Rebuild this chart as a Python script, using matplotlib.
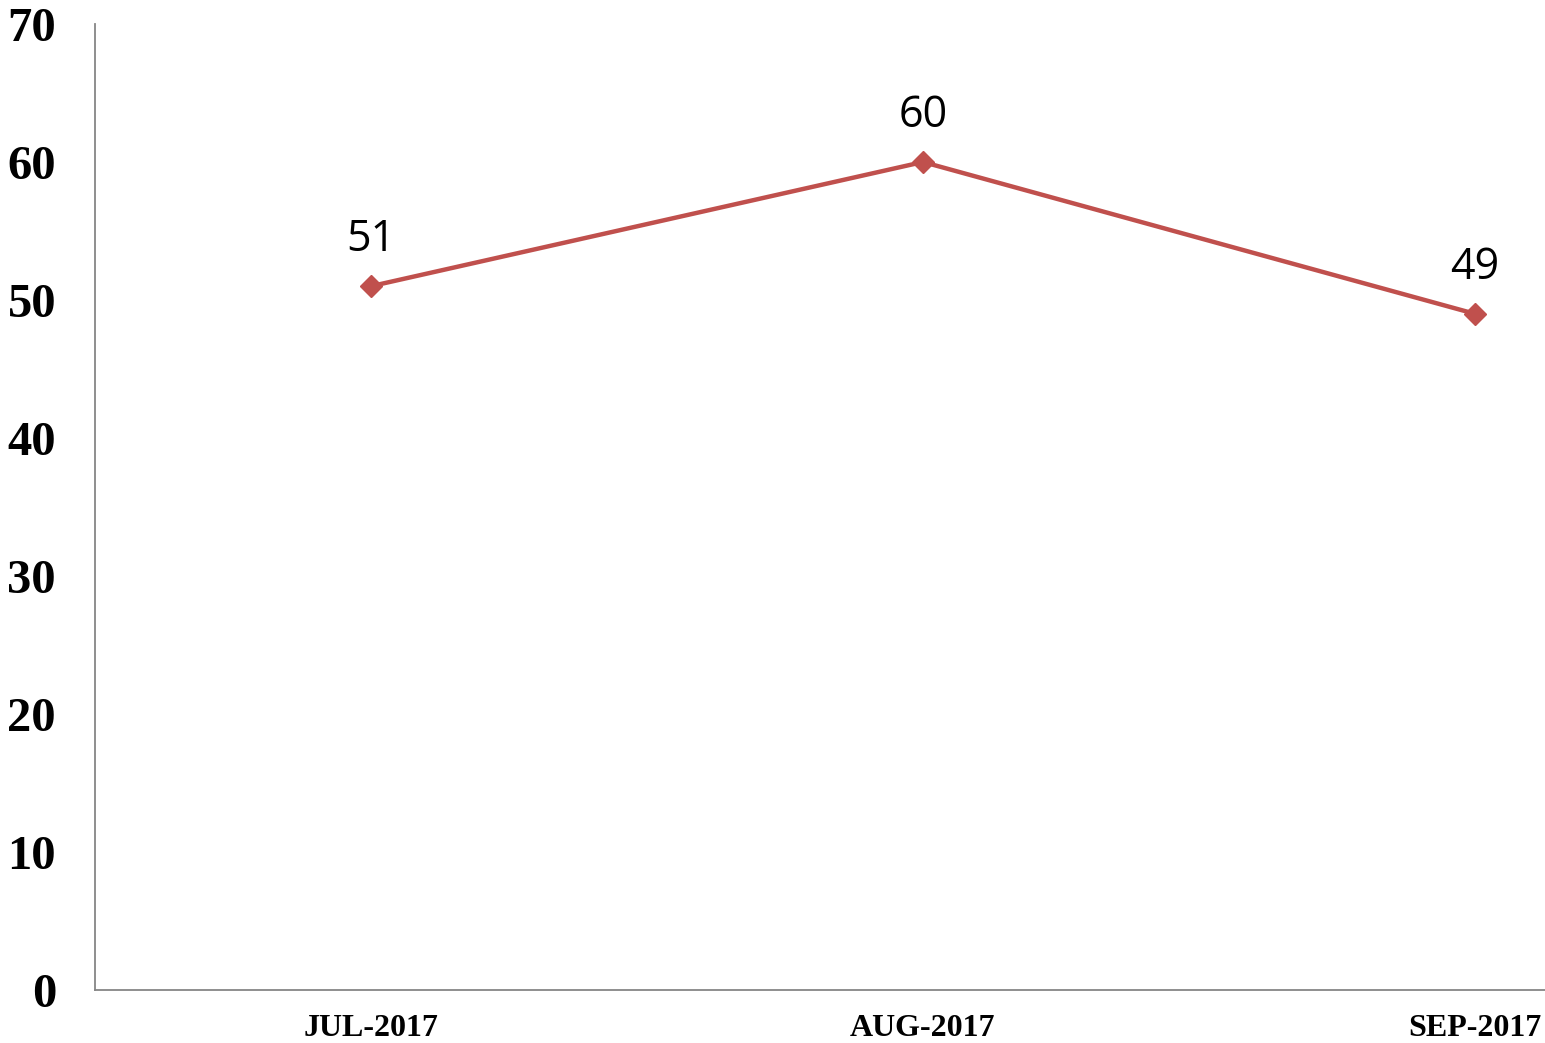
import matplotlib
matplotlib.use("Agg")
import matplotlib.pyplot as plt

# data
months = ["JUL-2017", "AUG-2017", "SEP-2017"]
values = [51, 60, 49]
y_ticks = [0, 10, 20, 30, 40, 50, 60, 70]

line_color = "#C0504D"
axis_color = "#868686"

fig = plt.figure(figsize=(15.45, 10.43), dpi=100)
ax = fig.add_axes([95/1545, 53/1043, 1 - 95/1545, (990 - 24)/1043])

x = list(range(len(months)))
ax.plot(x, values, color=line_color, lw=3.2, marker="D", ms=11,
        markeredgecolor=line_color, markerfacecolor=line_color, zorder=3)

for xi, v in zip(x, values):
    ax.annotate(str(v), (xi, v), xytext=(0, 25), textcoords="offset points",
                ha="center", va="baseline", fontsize=31,
                family=["Open Sans", "DejaVu Sans"], color="black")

ax.set_xlim(-0.5, 2.127)
ax.set_ylim(0, 70)
ax.set_xticks(x)
ax.set_xticklabels(months)
ax.set_yticks(y_ticks)

for lab in ax.get_xticklabels():
    lab.set_fontfamily("Liberation Serif")
    lab.set_fontweight("bold")
    lab.set_fontsize(23)
for lab in ax.get_yticklabels():
    lab.set_fontfamily("Liberation Serif")
    lab.set_fontweight("bold")
    lab.set_fontsize(35)

ax.tick_params(axis="both", length=0)
ax.tick_params(axis="y", pad=28)
ax.tick_params(axis="x", pad=17)

for side in ["top", "right"]:
    ax.spines[side].set_visible(False)
for side in ["left", "bottom"]:
    ax.spines[side].set_color(axis_color)
    ax.spines[side].set_linewidth(1.3)

fig.savefig("out.png", dpi=100)
